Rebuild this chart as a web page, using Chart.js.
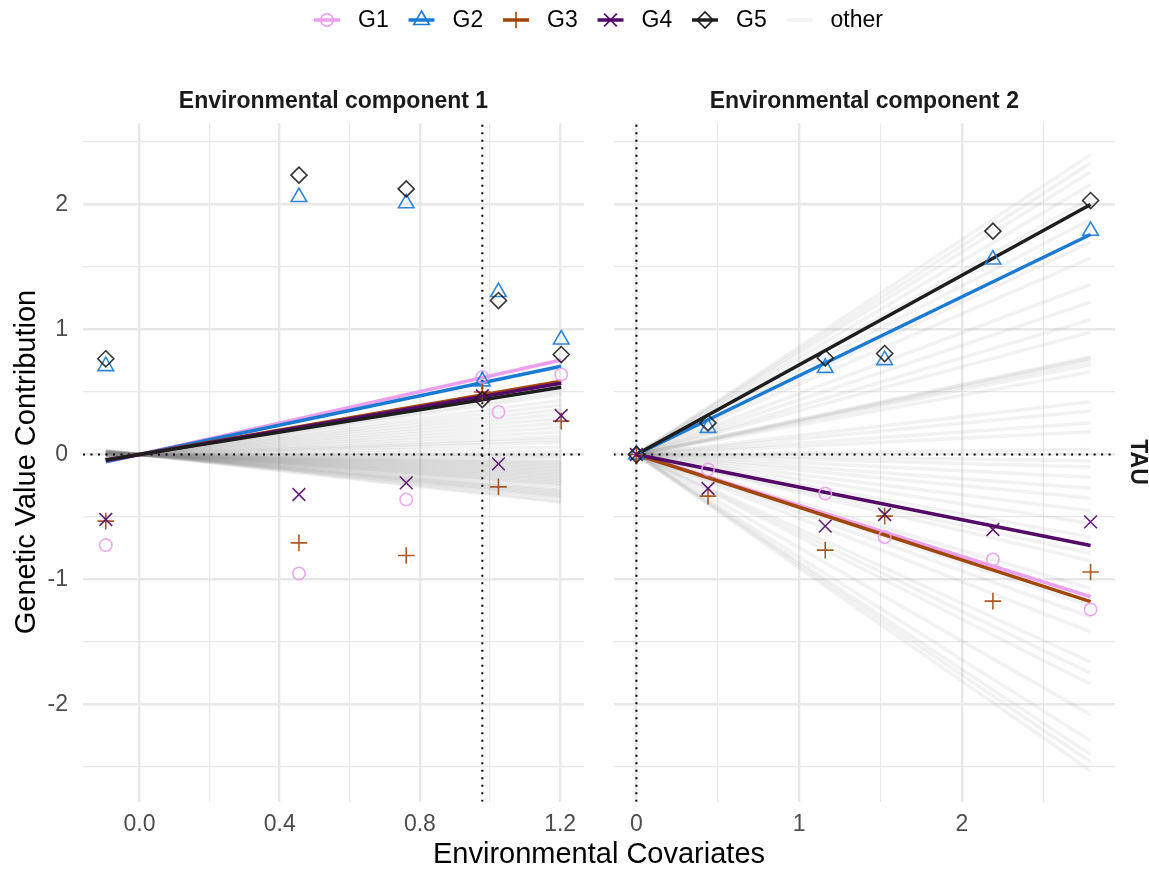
<!DOCTYPE html>
<html>
<head>
<meta charset="utf-8">
<script src="https://cdn.jsdelivr.net/npm/chart.js@4.4.1/dist/chart.umd.min.js"></script>
<style>
  html, body { margin: 0; padding: 0; background: #fff; }
  #wrap { position: relative; width: 1149px; height: 870px; }
  #wrap canvas { position: absolute; left: 0; top: 0; }
</style>
</head>
<body>
<div id="wrap">
  <canvas id="ec1" width="1149" height="870"></canvas>
  <canvas id="ec2" width="1149" height="870"></canvas>
</div>
<script>
// ---- data ----
var genotypes = ['G1', 'G2', 'G3', 'G4', 'G5'];
var lineColors = ['#EBA0EE', '#1B7AD2', '#A2470C', '#530A68', '#1E1E1E'];
var pointStyles = ['circle', 'triangle', 'cross', 'crossRot', 'rectRot'];
var pointRadii = [6.2, 9, 8.3, 9, 8];

// environmental covariate values where the genotypes were observed
var ec1X = [-0.096, 0.455, 0.761, 0.978, 1.024, 1.203];
var ec2X = [0, 0.44, 1.16, 1.525, 2.19, 2.79];

// observed genetic value contributions, one row per genotype (G1..G5)
var ec1Points = [
  [-0.725, -0.952, -0.36, 0.62, 0.34, 0.64],
  [0.707, 2.06, 2.01, 0.585, 1.30, 0.92],
  [-0.533, -0.707, -0.808, 0.50, -0.259, 0.267],
  [-0.52, -0.32, -0.227, 0.47, -0.075, 0.312],
  [0.766, 2.235, 2.125, 0.44, 1.232, 0.80]
];
var ec2Points = [
  [0, -0.12, -0.312, -0.66, -0.84, -1.24],
  [0, 0.213, 0.693, 0.755, 1.56, 1.79],
  [0, -0.333, -0.765, -0.493, -1.173, -0.94],
  [0, -0.272, -0.573, -0.48, -0.60, -0.539],
  [0, 0.253, 0.773, 0.808, 1.787, 2.032]
];

// reaction-norm slopes (lines go through the origin)
var ec1Slopes = [0.628, 0.587, 0.487, 0.474, 0.447];
var ec2Slopes = [-0.408, 0.631, -0.422, -0.261, 0.717];
var otherEc1Slopes = [0.05, -0.12, 0.21, -0.25, -0.08, 0.33, -0.18, 0.02, -0.29, 0.12, -0.05, -0.21, 0.40, -0.15, -0.02,
  -0.27, 0.08, -0.10, 0.27, -0.19, -0.31, 0.15, -0.07, -0.23, 0.36, -0.13, -0.01, -0.26, 0.18, -0.16, -0.09, -0.32,
  0.24, -0.04, -0.20, 0.42, -0.11, -0.28, 0.10, -0.17, -0.24, 0.30, -0.06, -0.14];
var otherEc2Slopes = [0.860, -0.305, 0.276, -0.907, 0.065, 0.609, -0.161, 0.269, -0.882, 0.437, -0.036, -0.466, 0.810,
  -0.125, 0.151, -0.659, 0.351, -0.018, 0.735, -0.237, -0.821, 0.258, 0.014, -0.509, 0.835, -0.097, 0.125, -0.746,
  0.487, -0.283, -0.065, -0.860, 0.674, 0.090, -0.384, 0.774, -0.197, -0.627, 0.563, -0.434, -0.595, 0.387, 0.237, 0.280];

var ec1Ref = 0.978;
var ec2Ref = 0;
var ec1Range = [-0.161, 1.268];
var ec2Range = [-0.14, 2.94];
var yRange = [-2.778, 2.65];

var FONT = '"Liberation Sans", Arial, Helvetica, sans-serif';
var GRID = '#e8e8e8';
var OTHER = 'rgba(127,127,127,0.1)';

function isMajor(v, step) {
  return Math.abs(v / step - Math.round(v / step)) < 1e-6;
}
function withAlpha(hex, a) {
  var n = parseInt(hex.slice(1), 16);
  return 'rgba(' + (n >> 16) + ',' + ((n >> 8) & 255) + ',' + (n & 255) + ',' + a + ')';
}

function buildDatasets(xs, points, slopes, others, ref, xRange) {
  var x0 = xs[0], x1 = xs[xs.length - 1];
  var sets = [];
  others.forEach(function (s) {
    sets.push({ data: [{ x: x0, y: s * x0 }, { x: x1, y: s * x1 }], showLine: true,
      borderColor: OTHER, borderWidth: 3.5, pointRadius: 0, order: 100 });
  });
  // dotted reference lines
  sets.push({ data: [{ x: xRange[0], y: 0 }, { x: xRange[1], y: 0 }], showLine: true,
    borderColor: '#000', borderWidth: 2, borderDash: [2, 5.5], pointRadius: 0, order: 50 });
  sets.push({ data: [{ x: ref, y: yRange[0] }, { x: ref, y: yRange[1] }], showLine: true,
    borderColor: '#000', borderWidth: 2, borderDash: [2, 5.5], pointRadius: 0, order: 50 });
  genotypes.forEach(function (g, i) {
    sets.push({ label: g, data: [{ x: x0, y: slopes[i] * x0 }, { x: x1, y: slopes[i] * x1 }], showLine: true,
      borderColor: lineColors[i], borderWidth: 3.5, pointRadius: 0, order: 20 - i });
  });
  genotypes.forEach(function (g, i) {
    sets.push({ label: g, data: xs.map(function (x, j) { return { x: x, y: points[i][j] }; }),
      showLine: false, pointStyle: pointStyles[i], pointRadius: pointRadii[i],
      borderColor: withAlpha(lineColors[i], 0.9), backgroundColor: 'rgba(0,0,0,0)',
      pointBorderWidth: 1.6, order: 10 - i });
  });
  return sets;
}

function gridWidth(step) {
  return function (ctx) {
    return ctx.tick && isMajor(ctx.tick.value, step) ? 2.4 : 1.2;
  };
}

function makePanel(id, xs, points, slopes, others, ref, xRange, padding, showY, xMajor, digits, extra) {
  return new Chart(document.getElementById(id), {
    type: 'scatter',
    data: { datasets: buildDatasets(xs, points, slopes, others, ref, xRange) },
    options: {
      responsive: false,
      animation: false,
      events: [],
      layout: { padding: padding },
      plugins: { legend: { display: false }, tooltip: { enabled: false } },
      scales: {
        x: {
          type: 'linear', min: xRange[0], max: xRange[1],
          border: { display: false },
          grid: { color: GRID, lineWidth: gridWidth(xMajor), drawTicks: false },
          ticks: {
            stepSize: xMajor / 2, includeBounds: false, autoSkip: false, maxRotation: 0, padding: 9,
            color: '#4d4d4d', font: { family: FONT, size: 23 },
            callback: function (v) { return isMajor(v, xMajor) ? v.toFixed(digits) : ''; }
          },
          afterFit: function (s) { s.height = 40; }
        },
        y: {
          type: 'linear', min: yRange[0], max: yRange[1],
          border: { display: false },
          grid: { color: GRID, lineWidth: gridWidth(1), drawTicks: false },
          ticks: {
            display: showY, stepSize: 0.5, includeBounds: false, autoSkip: false, padding: 15,
            color: '#4d4d4d', font: { family: FONT, size: 23 },
            callback: function (v) { return isMajor(v, 1) ? String(Math.round(v)) : ''; }
          },
          afterFit: function (s) { s.width = showY ? 83 : 0; }
        }
      }
    },
    plugins: extra ? [extra] : []
  });
}

function shape(ctx, style, r, x, y) {
  if (Chart.helpers && Chart.helpers.drawPoint) {
    Chart.helpers.drawPoint(ctx, { pointStyle: style, radius: r, borderWidth: 1, rotation: 0 }, x, y);
  }
}

// legend, strip labels and axis titles
var textPlugin = {
  id: 'texts',
  afterDraw: function (chart) {
    var ctx = chart.ctx;
    ctx.save();
    // legend
    var keyX = [327, 421.5, 516, 610.5, 705, 799.5];
    var labels = genotypes.concat(['other']);
    labels.forEach(function (lab, i) {
      var cx = keyX[i], cy = 20;
      ctx.beginPath();
      ctx.strokeStyle = i < 5 ? lineColors[i] : OTHER;
      ctx.lineWidth = 3.5;
      ctx.setLineDash([]);
      ctx.moveTo(cx - 13, cy);
      ctx.lineTo(cx + 13, cy);
      ctx.stroke();
      if (i < 5) {
        ctx.fillStyle = 'rgba(0,0,0,0)';
        ctx.strokeStyle = lineColors[i];
        ctx.lineWidth = 1.6;
        shape(ctx, pointStyles[i], pointRadii[i], cx, cy);
      }
      ctx.fillStyle = '#000';
      ctx.font = '23px ' + FONT;
      ctx.textAlign = 'left';
      ctx.textBaseline = 'middle';
      ctx.fillText(lab, cx + 31, cy + 1);
    });
    // strip labels
    ctx.fillStyle = '#1a1a1a';
    ctx.font = 'bold 23px ' + FONT;
    ctx.textAlign = 'center';
    ctx.textBaseline = 'middle';
    ctx.fillText('Environmental component 1', 333.5, 102);
    ctx.fillText('Environmental component 2', 864.3, 102);
    ctx.save();
    ctx.translate(1137, 462);
    ctx.rotate(Math.PI / 2);
    ctx.fillText('TAU', 0, 0);
    ctx.restore();
    // axis titles
    ctx.fillStyle = '#000';
    ctx.font = '29px ' + FONT;
    ctx.fillText('Environmental Covariates', 599, 855);
    ctx.save();
    ctx.translate(27, 462);
    ctx.rotate(-Math.PI / 2);
    ctx.fillText('Genetic Value Contribution', 0, 0);
    ctx.restore();
    ctx.restore();
  }
};

makePanel('ec1', ec1X, ec1Points, ec1Slopes, otherEc1Slopes, ec1Ref, ec1Range,
  { left: 0, top: 123.3, right: 565, bottom: 28.3 }, true, 0.4, 1, textPlugin);
makePanel('ec2', ec2X, ec2Points, ec2Slopes, otherEc2Slopes, ec2Ref, ec2Range,
  { left: 613.6, top: 123.3, right: 34, bottom: 28.3 }, false, 1, 0, null);
</script>
</body>
</html>
